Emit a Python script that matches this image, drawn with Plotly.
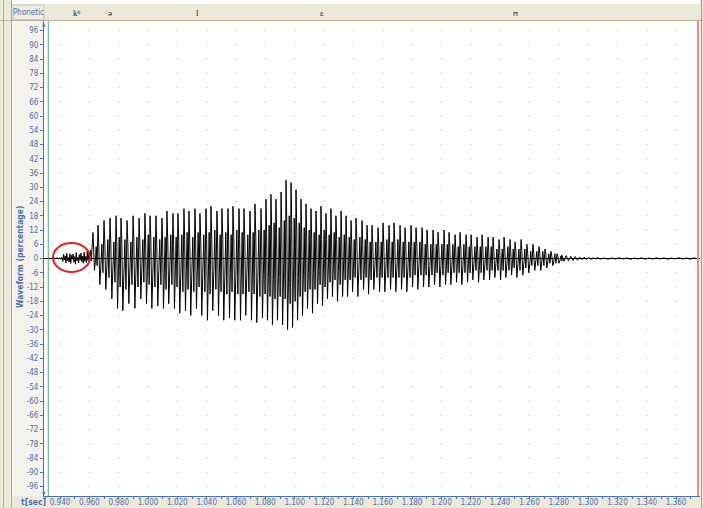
import plotly.graph_objects as go

# ---------------- waveform data (time in seconds, amplitude in %) ----------------
# quiet stretch before the release
lead_v = [0.0, 0.2, -0.2, 0.3, -0.1, 0.2, -0.3, 0.4, -0.2, 0.3, -0.4, 0.5]
lead_span = (0.9322, 0.9414)

# aspiration noise of the release burst
burst_v = [0.5, -1.2, 1.8, -0.6, 1.1, -1.8, 2.2, -0.9, 0.4, -1.5, 2.0, -2.1, 1.3,
           -0.3, 1.9, -1.6, 0.8, -2.4, 2.5, -1.0, 0.6, -1.9, 1.6, -0.7, 2.3, -1.4,
           1.0, -2.0, 2.7, -1.2, 0.9, -1.7, 3.0, -0.8, 2.1, -1.5, 3.5, -1.0, 5.0]
burst_span = (0.9414, 0.9618)

# voiced part: onset time of each glottal cycle and the extremes inside it
cycle_t = [0.9625, 0.9659, 0.9700, 0.9741, 0.9782, 0.9816, 0.9857, 0.9898, 0.9939, 0.9979,
           1.0014, 1.0054, 1.0095, 1.0129, 1.0170, 1.0204, 1.0245, 1.0279, 1.0320, 1.0354,
           1.0395, 1.0429, 1.0470, 1.0504, 1.0545, 1.0579, 1.0620, 1.0654, 1.0695, 1.0729,
           1.0770, 1.0804, 1.0838, 1.0872, 1.0907, 1.0941, 1.0975, 1.1009, 1.1043, 1.1077,
           1.1111, 1.1145, 1.1179, 1.1213, 1.1247, 1.1281, 1.1316, 1.1350, 1.1384, 1.1418,
           1.1459, 1.1493, 1.1527, 1.1568, 1.1602, 1.1643, 1.1677, 1.1718, 1.1752, 1.1793,
           1.1827, 1.1868, 1.1902, 1.1943, 1.1977, 1.2018, 1.2052, 1.2093, 1.2127, 1.2168,
           1.2202, 1.2243, 1.2277, 1.2318, 1.2352, 1.2393, 1.2427, 1.2468, 1.2502, 1.2543,
           1.2583, 1.2624, 1.2665, 1.2706, 1.2747, 1.2788]
# main positive peak
cycle_hi = [11, 14, 16, 17, 18, 17, 16, 18, 17, 19,
            18, 18, 17, 20, 19, 19, 21, 20, 21, 19,
            21, 22, 20, 21, 21, 22, 21, 21, 20, 23,
            21, 25, 27, 25, 28, 33, 32, 29, 25, 23,
            21, 20, 22, 19, 21, 18, 20, 18, 16, 17,
            16, 14, 14, 13, 15, 14, 15, 14, 13, 14,
            13, 13, 12, 12, 11, 12, 11, 10, 11, 10,
            10, 9, 10, 9, 9, 8, 9, 8, 7, 8,
            6, 6, 5, 4, 3, 2]
# shoulder right after the peak
cycle_mid = [3, 5, 6, 6, 7, 6, 6, 7, 6, 7,
             7, 6, 7, 7, 6, 7, 8, 7, 8, 7,
             8, 8, 7, 8, 8, 9, 8, 8, 8, 9,
             9, 11, 12, 10, 13, 15, 14, 12, 10, 9,
             8, 9, 8, 8, 7, 8, 7, 7, 6, 7,
             6, 6, 5, 6, 5, 5, 6, 5, 5, 5,
             5, 5, 4, 5, 4, 4, 4, 4, 4, 4,
             4, 3, 4, 3, 3, 3, 3, 3, 3, 3,
             2, 2, 2, 2, 1, 1]
# main negative trough
cycle_lo = [-5, -11, -13, -17, -21, -22, -19, -21, -17, -19,
            -21, -20, -21, -19, -21, -23, -22, -24, -21, -24,
            -26, -22, -24, -26, -25, -26, -26, -24, -26, -27,
            -25, -26, -28, -26, -28, -30, -29, -26, -24, -21,
            -23, -19, -20, -17, -16, -18, -16, -16, -14, -16,
            -13, -15, -13, -14, -14, -13, -14, -13, -14, -12,
            -13, -12, -12, -11, -12, -11, -11, -10, -11, -10,
            -9, -10, -9, -9, -8, -9, -8, -7, -8, -7,
            -6, -5, -5, -4, -3, -2]
# rebound after the trough
cycle_dip = [-1, -3, -3, -4, -5, -6, -4, -5, -4, -5,
             -6, -5, -6, -4, -5, -6, -5, -6, -5, -6,
             -7, -5, -6, -7, -6, -7, -7, -6, -7, -8,
             -7, -8, -9, -8, -9, -10, -9, -8, -7, -6,
             -6, -5, -6, -4, -4, -5, -4, -4, -4, -4,
             -3, -4, -3, -4, -4, -3, -4, -3, -4, -3,
             -3, -3, -3, -3, -3, -3, -3, -2, -3, -2,
             -2, -3, -2, -2, -2, -2, -2, -2, -2, -2,
             -2, -1, -1, -1, -1, -1]
# secondary (formant) peak
cycle_hi2 = [5, 6, 8, 7, 9, 8, 7, 9, 8, 10,
             9, 8, 9, 10, 9, 10, 11, 9, 11, 10,
             11, 12, 10, 11, 10, 12, 11, 10, 11, 12,
             12, 14, 15, 13, 16, 18, 17, 15, 13, 12,
             11, 10, 12, 10, 11, 9, 10, 9, 8, 9,
             8, 7, 7, 7, 8, 7, 8, 7, 7, 7,
             7, 6, 6, 6, 6, 6, 6, 5, 6, 5,
             5, 5, 5, 5, 4, 4, 5, 4, 4, 4,
             3, 3, 3, 2, 2, 1]
# secondary trough
cycle_lo2 = [-3, -6, -8, -10, -12, -13, -11, -12, -10, -11,
             -12, -11, -13, -11, -12, -14, -13, -14, -12, -14,
             -15, -13, -14, -15, -14, -15, -15, -14, -15, -16,
             -15, -16, -17, -16, -17, -19, -18, -16, -14, -13,
             -13, -11, -12, -10, -9, -11, -9, -9, -8, -9,
             -8, -9, -8, -8, -8, -8, -8, -8, -8, -7,
             -7, -7, -7, -6, -7, -6, -6, -6, -6, -6,
             -5, -6, -5, -5, -5, -5, -5, -4, -5, -4,
             -3, -3, -3, -2, -2, -1]

# decaying ripple after voicing, then the quiet end of the file
tail_v = [1.5, -1.2, 1.2, -1.0, 0.9, -0.8, 0.8, -0.7, 0.6, -0.5, 0.5, -0.4, 0.4, -0.3, 0.3, -0.2]
tail_span = (1.2820, 1.3050)
rest_v = [0.3, -0.2, 0.2, -0.3, 0.2, -0.2, 0.3, -0.2, 0.2, -0.3, 0.2, -0.2, 0.3, -0.3,
          0.2, -0.2, 0.3, -0.2, 0.2, -0.3, 0.2, -0.2, 0.3, -0.2, 0.2, -0.3, 0.2, 0.0]
rest_span = (1.3060, 1.3745)

# cursors and tiers
cursor_start = 0.9320
cursor_end = 1.3749
phones = ["kʰ", "ə", "l", "ɛ", "ʊ"]
phone_t = [0.9516, 0.9741, 1.0334, 1.1186, 1.2502]

time_ticks = [0.940, 0.960, 0.980, 1.000, 1.020, 1.040, 1.060, 1.080, 1.100, 1.120, 1.140,
              1.160, 1.180, 1.200, 1.220, 1.240, 1.260, 1.280, 1.300, 1.320, 1.340, 1.360]
time_labels = ["0.940", "0.960", "0.980", "1.000", "1.020", "1.040", "1.060", "1.080",
               "1.100", "1.120", "1.140", "1.160", "1.180", "1.200", "1.220", "1.240",
               "1.260", "1.280", "1.300", "1.320", "1.340", "1.360"]
amp_ticks = [96, 90, 84, 78, 72, 66, 60, 54, 48, 42, 36, 30, 24, 18, 12, 6, 0,
             -6, -12, -18, -24, -30, -36, -42, -48, -54, -60, -66, -72, -78, -84, -90, -96]
amp_labels = [str(v) for v in amp_ticks]

# ---------------- build the sample sequence ----------------
def spread(values, span):
    a, b = span
    n = len(values)
    return [a + (b - a) * i / (n - 1) for i in range(n)]

xs, ys = [], []
xs += spread(lead_v, lead_span); ys += lead_v
xs += spread(burst_v, burst_span); ys += burst_v
phase = [0.0, 0.14, 0.3, 0.48, 0.64, 0.82]
for i, t0 in enumerate(cycle_t):
    p = (cycle_t[i + 1] - t0) if i + 1 < len(cycle_t) else (t0 - cycle_t[i - 1])
    vals = (cycle_hi[i], cycle_mid[i], cycle_lo[i], cycle_dip[i], cycle_hi2[i], cycle_lo2[i])
    for f, v in zip(phase, vals):
        xs.append(t0 + f * p)
        ys.append(v)
xs += spread(tail_v, tail_span); ys += tail_v
xs += spread(rest_v, rest_span); ys += rest_v

# ---------------- figure ----------------
W, H = 703, 508
ML, MR, MT, MB = 44, 3, 21, 12
PW, PH = W - ML - MR, H - MT - MB
BLUE = "#4A70B4"
BEIGE = "#ECE9D8"
NARROW = "Liberation Sans Narrow, Arial Narrow, DejaVu Sans Condensed, sans-serif"

def px(X):
    return (X - ML) / PW

def py(Y):
    return (H - MB - Y) / PH

fig = go.Figure()

# dotted grid at tick crossings
gx = [t for t in time_ticks for _ in amp_ticks]
gy = [a for _ in time_ticks for a in amp_ticks]
fig.add_trace(go.Scatter(x=gx, y=gy, mode="markers", hoverinfo="skip",
                         marker=dict(size=1.6, color="#CFCFCF", line=dict(width=0)),
                         showlegend=False))

fig.add_trace(go.Scatter(x=xs, y=ys, mode="lines", hoverinfo="skip",
                         line=dict(color="#000000", width=1), showlegend=False))

shapes = []
def rect(x0, y0, x1, y1, fill, line_color=None, lw=0):
    shapes.append(dict(type="rect", xref="paper", yref="paper", layer="below",
                       x0=px(x0), x1=px(x1), y0=py(y1), y1=py(y0),
                       fillcolor=fill, line=dict(width=lw, color=line_color or fill)))

def hline(x0, x1, y, color, lw=1):
    shapes.append(dict(type="line", xref="paper", yref="paper", layer="above",
                       x0=px(x0), x1=px(x1), y0=py(y), y1=py(y), line=dict(color=color, width=lw)))

def vline(x, y0, y1, color, lw=1):
    shapes.append(dict(type="line", xref="paper", yref="paper", layer="above",
                       x0=px(x), x1=px(x), y0=py(y0), y1=py(y1), line=dict(color=color, width=lw)))

# window frame
rect(0, 0, W, 4, "#FFFFFF")
rect(0, 4, W, 20.5, BEIGE)
rect(0, 0, 12, H, BEIGE)
rect(0, 496, W, H, BEIGE)
rect(700, 0, W, H, BEIGE)
rect(13, 5, 44, 19.5, "#EFEDE2", "#C9C6B4", 1)
hline(0, W, 20.5, "#B8B5A3")
vline(3.5, 0, H, "#A8A8A8")
vline(11.5, 0, H, "#A8A8A8")
vline(701.5, 0, H, "#A09E92")

# cursors
shapes.append(dict(type="line", xref="x", yref="paper", x0=cursor_start, x1=cursor_start,
                   y0=0, y1=1, line=dict(color="#3CB878", width=1)))
shapes.append(dict(type="line", xref="x", yref="paper", x0=cursor_end, x1=cursor_end,
                   y0=0, y1=1, line=dict(color="#F08A8A", width=2)))
# highlight of the release burst
shapes.append(dict(type="circle", xref="x", yref="y", x0=0.9352, x1=0.9604, y0=-5.7, y1=6.5,
                   line=dict(color="#E02020", width=2)))

def note(text, X, Y, size, color, family=NARROW, angle=0):
    return dict(text=text, x=px(X), y=py(Y), xref="paper", yref="paper", showarrow=False,
                xanchor="center", yanchor="middle", textangle=angle,
                font=dict(family=family, size=size, color=color))

annotations = [
    note("Phonetic", 28.5, 12.5, 8, BLUE),
    note("<b>Waveform (percentage)</b>", 20, 257, 8.5, BLUE, angle=-90),
    note("<b>t[sec]</b>", 33, 502, 8.5, BLUE),
    note("▲", 43.5, 24, 5, BLUE),
    note("▼", 43.5, 493, 5, BLUE),
]
for ph, t in zip(phones, phone_t):
    annotations.append(dict(text=ph, x=t, y=py(12.5), xref="x", yref="paper", showarrow=False,
                            xanchor="center", yanchor="middle",
                            font=dict(family="Liberation Serif, DejaVu Serif, serif", size=9,
                                      color="#222222")))

fig.update_layout(
    width=W, height=H,
    margin=dict(l=ML, r=MR, t=MT, b=MB, pad=0, autoexpand=False),
    paper_bgcolor="#F3F2EC", plot_bgcolor="#FFFFFF",
    shapes=shapes, annotations=annotations,
    xaxis=dict(range=[0.92909, 1.37627], tickvals=time_ticks, ticktext=time_labels,
               ticks="outside", ticklen=2, tickcolor=BLUE, tickwidth=1, ticklabelstandoff=-4,
               showline=True, linecolor=BLUE, linewidth=1, showgrid=False, zeroline=False,
               automargin=False,
               tickfont=dict(family=NARROW, size=8, color=BLUE),
               minor=dict(dtick=0.01, ticks="outside", ticklen=2, tickcolor=BLUE)),
    yaxis=dict(range=[-100, 100], tickvals=amp_ticks, ticktext=amp_labels,
               ticks="outside", ticklen=3, tickcolor=BLUE, tickwidth=1,
               showline=True, linecolor=BLUE, linewidth=1, showgrid=False,
               zeroline=True, zerolinecolor="#000000", zerolinewidth=1,
               automargin=False,
               tickfont=dict(family=NARROW, size=8, color=BLUE)),
)

fig.write_html("out.html")
